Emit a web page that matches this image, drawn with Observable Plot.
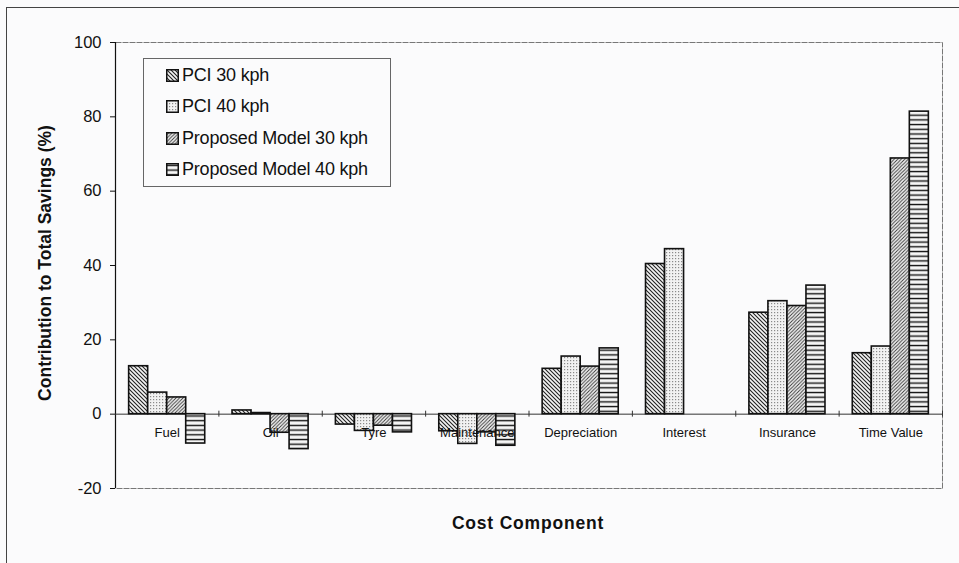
<!DOCTYPE html>
<html>
<head>
<meta charset="utf-8">
<script src="https://cdn.jsdelivr.net/npm/d3@7"></script>
<script src="https://cdn.jsdelivr.net/npm/@observablehq/plot@0.6"></script>
<style>
  html, body { margin: 0; padding: 0; background: #fbfbfc; }
  #wrap { position: relative; width: 959px; height: 563px; overflow: hidden; font-family: "Liberation Sans", Arial, sans-serif; }
  #outer { position: absolute; left: 6px; top: 7px; width: 960px; height: 600px; border: 1px solid #444; box-sizing: border-box; }
  #chart { position: absolute; left: 0; top: 0; }
  #legend { position: absolute; left: 143px; top: 58px; width: 248px; height: 129px; border: 1px solid #666; box-sizing: border-box; background: #fbfbfc; padding: 1px 0 0 22px; }
  .item { display: flex; align-items: center; height: 31.3px; font-size: 18px; letter-spacing: -0.2px; color: #111; }
  .item svg { margin-right: 3px; }
  #ytitle { position: absolute; left: 45px; top: 263px; transform: translate(-50%, -50%) rotate(-90deg); white-space: nowrap; font-weight: bold; font-size: 17.5px; color: #111; }
  #xtitle { position: absolute; left: 528px; top: 523px; transform: translate(-50%, -50%); white-space: nowrap; font-weight: bold; font-size: 17.5px; letter-spacing: 0.8px; color: #111; }
</style>
</head>
<body>
<svg width="0" height="0" style="position:absolute">
  <defs>
    <pattern id="pat0" patternUnits="userSpaceOnUse" width="4" height="4">
      <rect width="4" height="4" fill="#f4f4f4"/>
      <path d="M-1,-1 L5,5 M-1,3 L1,5 M3,-1 L5,1" stroke="#222" stroke-width="1.1"/>
    </pattern>
    <pattern id="pat1" patternUnits="userSpaceOnUse" width="3" height="3">
      <rect width="3" height="3" fill="#f2f2f2"/>
      <rect x="0" y="0" width="1.2" height="1.2" fill="#8a8a8a"/>
    </pattern>
    <pattern id="pat2" patternUnits="userSpaceOnUse" width="3.5" height="3.5">
      <rect width="3.5" height="3.5" fill="#f4f4f4"/>
      <path d="M-1,4.5 L4.5,-1 M-1,1 L1,-1 M2.5,4.5 L4.5,2.5" stroke="#333" stroke-width="0.9"/>
    </pattern>
    <pattern id="pat3" patternUnits="userSpaceOnUse" width="5" height="4.7">
      <rect width="5" height="4.7" fill="#f6f6f6"/>
      <rect x="0" y="1.7" width="5" height="1.4" fill="#111"/>
    </pattern>
  </defs>
</svg>
<div id="wrap">
  <div id="outer"></div>
  <div id="chart"></div>
  <div id="legend"></div>
  <div id="ytitle">Contribution to Total Savings (%)</div>
  <div id="xtitle">Cost Component</div>
</div>
<script>
const categories = ["Fuel", "Oil", "Tyre", "Maintenance", "Depreciation", "Interest", "Insurance", "Time Value"];
const series = ["PCI 30 kph", "PCI 40 kph", "Proposed Model 30 kph", "Proposed Model 40 kph"];
const pci30 = [12.9, 1.0, -2.8, -4.6, 12.2, 40.4, 27.3, 16.4];
const pci40 = [5.8, 0.3, -4.5, -8.0, 15.5, 44.4, 30.4, 18.2];
const pm30  = [4.5, -5.0, -3.1, -4.9, 12.8, null, 29.1, 68.8];
const pm40  = [-7.9, -9.4, -4.9, -8.5, 17.7, null, 34.6, 81.4];
const yTicks = [-20, 0, 20, 40, 60, 80, 100];

const seriesValues = [pci30, pci40, pm30, pm40];
const patterns = ["url(#pat0)", "url(#pat1)", "url(#pat2)", "url(#pat3)"];

// grouped-bar layout: each category occupies one unit on x; bars dodge inside it
const barW = 0.184, groupPad = (1 - 4 * barW) / 2;
const rows = [];
categories.forEach((c, i) => {
  seriesValues.forEach((vals, j) => {
    const v = vals[i];
    if (v == null) return;
    rows.push({category: c, series: series[j], value: v,
      x1: i + groupPad + j * barW, x2: i + groupPad + (j + 1) * barW, fill: patterns[j]});
  });
});
const labelRows = categories.map((c, i) => ({category: c, x: i + 0.5}));
const boundaries = d3.range(1, categories.length + 1);

const chart = Plot.plot({
  width: 959,
  height: 563,
  marginLeft: 115,
  marginRight: 17,
  marginTop: 42,
  marginBottom: 75,
  style: {background: "transparent", fontFamily: "Liberation Sans, Arial, sans-serif"},
  x: {domain: [0, categories.length], axis: null},
  y: {domain: [-20, 100], axis: null},
  marks: [
    Plot.frame({stroke: "#777", strokeWidth: 1, strokeDasharray: "6,1"}),
    Plot.axisY({ticks: yTicks, tickFormat: d => String(d), tickSize: 5, tickPadding: 9, label: null, fontSize: 16.5, color: "#111"}),
    Plot.ruleX([0], {stroke: "#111", strokeWidth: 1.2}),
    Plot.ruleY([0], {stroke: "#333", strokeWidth: 1}),
    Plot.ruleX(boundaries, {x: d => d, y1: -0.8, y2: 0.8, stroke: "#333"}),
    Plot.rectY(rows, {x1: "x1", x2: "x2", y1: 0, y2: "value", fill: "fill", stroke: "#111", strokeWidth: 1.6}),
    Plot.text(labelRows, {x: "x", y: -5.1, text: "category", fontSize: 13, fill: "#111", style: "letter-spacing:0.8px"})
  ]
});
document.getElementById("chart").appendChild(chart);

// legend
const legend = document.getElementById("legend");
series.forEach((s, j) => {
  const item = document.createElement("div");
  item.className = "item";
  item.innerHTML = `<svg width="13" height="13"><rect x="0.75" y="0.75" width="11.5" height="11.5" fill="${patterns[j]}" stroke="#111" stroke-width="1.5"/></svg><span>${s}</span>`;
  legend.appendChild(item);
});
</script>
</body>
</html>
